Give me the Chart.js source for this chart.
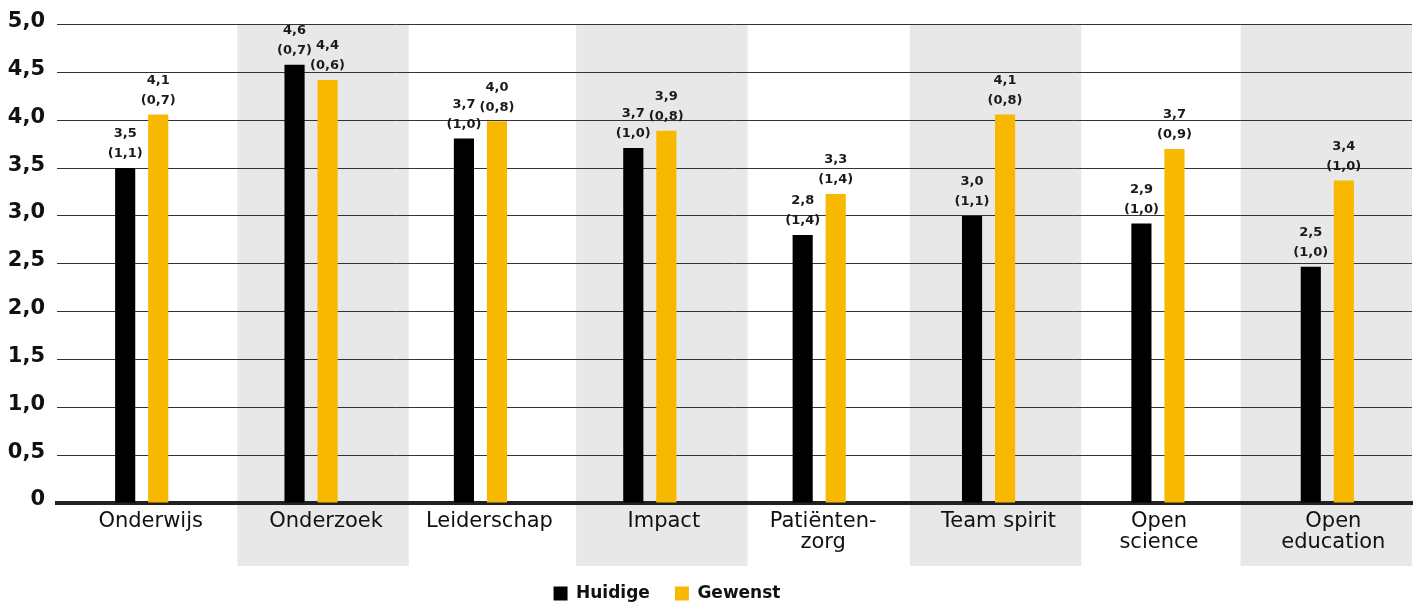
<!DOCTYPE html>
<html>
<head>
<meta charset="utf-8">
<script src="https://cdn.jsdelivr.net/npm/chart.js@4/dist/chart.umd.min.js"></script>
<style>
  html, body { margin: 0; padding: 0; background: #ffffff; overflow: hidden; }
  #wrap { width: 1415px; height: 612px; position: relative; }
</style>
</head>
<body>
<div id="wrap"><canvas id="c"></canvas></div>
<script>
const categories = ["Onderwijs", "Onderzoek", "Leiderschap", "Impact", ["Patiënten-", "zorg"], "Team spirit", ["Open", "science"], ["Open", "education"]];
const huidigeValues = [3.50, 4.58, 3.81, 3.71, 2.80, 3.00, 2.92, 2.47];
const gewenstValues = [4.06, 4.42, 3.99, 3.89, 3.23, 4.06, 3.70, 3.37];
const huidigeLabels = ["3,5", "4,6", "3,7", "3,7", "2,8", "3,0", "2,9", "2,5"];
const huidigeSD = ["(1,1)", "(0,7)", "(1,0)", "(1,0)", "(1,4)", "(1,1)", "(1,0)", "(1,0)"];
const gewenstLabels = ["4,1", "4,4", "4,0", "3,9", "3,3", "4,1", "3,7", "3,4"];
const gewenstSD = ["(0,7)", "(0,6)", "(0,8)", "(0,8)", "(1,4)", "(0,8)", "(0,9)", "(1,0)"];
const yTickValues = [0, 0.5, 1, 1.5, 2, 2.5, 3, 3.5, 4, 4.5, 5];
const yTickLabels = ["0", "0,5", "1,0", "1,5", "2,0", "2,5", "3,0", "3,5", "4,0", "4,5", "5,0"];
const shadedCategories = [1, 3, 5, 7];

const FONT = "'DejaVu Sans', sans-serif";
// small visual nudges (px) matching the original artwork's layout
const BAND_NUDGE = [12, 12, 7, -1];
const LABEL_NUDGE = [9, 15, 9, 14, 4, 10, 1, 6];

const bandPlugin = {
  id: 'bands',
  beforeDraw(chart) {
    const ctx = chart.ctx;
    const x = chart.scales.x;
    const area = chart.chartArea;
    const w = (area.right - area.left) / categories.length;
    ctx.save();
    ctx.fillStyle = '#e8e8e8';
    shadedCategories.forEach((i, k) => {
      const cx = x.getPixelForValue(i) + BAND_NUDGE[k];
      const left = cx - w / 2 - 1;
      const right = Math.min(cx + w / 2 + 1, area.right);
      ctx.fillRect(left, area.top, right - left, area.bottom + 63 - area.top);
    });
    ctx.restore();
    // nudge x tick labels
    const items = x.getLabelItems(chart.chartArea);
    items.forEach((it, i) => {
      if (!it._nudged) {
        it.options.translation[0] += LABEL_NUDGE[i] || 0;
        it._nudged = true;
      }
    });
  }
};

const legendShiftPlugin = {
  id: 'legendShift',
  afterLayout(chart) {
    if (chart.legend) {
      chart.legend.left -= 39;
      chart.legend.right -= 39;
    }
  }
};

const labelPlugin = {
  id: 'valueLabels',
  afterDatasetsDraw(chart) {
    const ctx = chart.ctx;
    ctx.save();
    ctx.font = "bold 13px " + FONT;
    ctx.fillStyle = '#1a1a1a';
    ctx.textAlign = 'center';
    ctx.textBaseline = 'middle';
    const sets = [[huidigeLabels, huidigeSD], [gewenstLabels, gewenstSD]];
    chart.data.datasets.forEach((ds, di) => {
      const meta = chart.getDatasetMeta(di);
      meta.data.forEach((el, i) => {
        ctx.fillText(sets[di][0][i], el.x, el.y - 34);
        ctx.fillText(sets[di][1][i], el.x, el.y - 14);
      });
    });
    ctx.restore();
  }
};

new Chart(document.getElementById('c'), {
  type: 'bar',
  data: {
    labels: categories,
    datasets: [
      { label: 'Huidige', data: huidigeValues, backgroundColor: '#000000', categoryPercentage: 0.39, barPercentage: 0.61 },
      { label: 'Gewenst', data: gewenstValues, backgroundColor: '#f8b800', categoryPercentage: 0.39, barPercentage: 0.61 }
    ]
  },
  options: {
    responsive: true,
    maintainAspectRatio: false,
    animation: false,
    layout: { padding: { top: 0, right: 3, left: 0, bottom: 0 } },
    plugins: {
      tooltip: { enabled: false },
      legend: {
        position: 'bottom',
        labels: {
          boxWidth: 14, boxHeight: 14,
          color: '#111',
          padding: 25,
          font: { family: FONT, size: 17, weight: 'bold' }
        }
      }
    },
    scales: {
      x: {
        grid: { display: false },
        border: { display: true, color: '#222', width: 4 },
        ticks: {
          color: '#111',
          padding: 0,
          maxRotation: 0,
          font: { family: FONT, size: 21, lineHeight: 1.0 }
        },
        afterFit(scale) { scale.height += 7; }
      },
      y: {
        min: 0, max: 5,
        afterBuildTicks(scale) { scale.ticks = yTickValues.map(v => ({ value: v })); },
        afterFit(scale) { scale.width = 57; },
        grid: { color: '#333', lineWidth: 1, drawTicks: false },
        border: { display: false },
        ticks: {
          color: '#111',
          padding: 12,
          labelOffset: -3,
          font: { family: FONT, size: 21, weight: 'bold' },
          callback: (v) => yTickLabels[yTickValues.indexOf(v)]
        }
      }
    }
  },
  plugins: [bandPlugin, labelPlugin, legendShiftPlugin]
});
</script>
</body>
</html>
